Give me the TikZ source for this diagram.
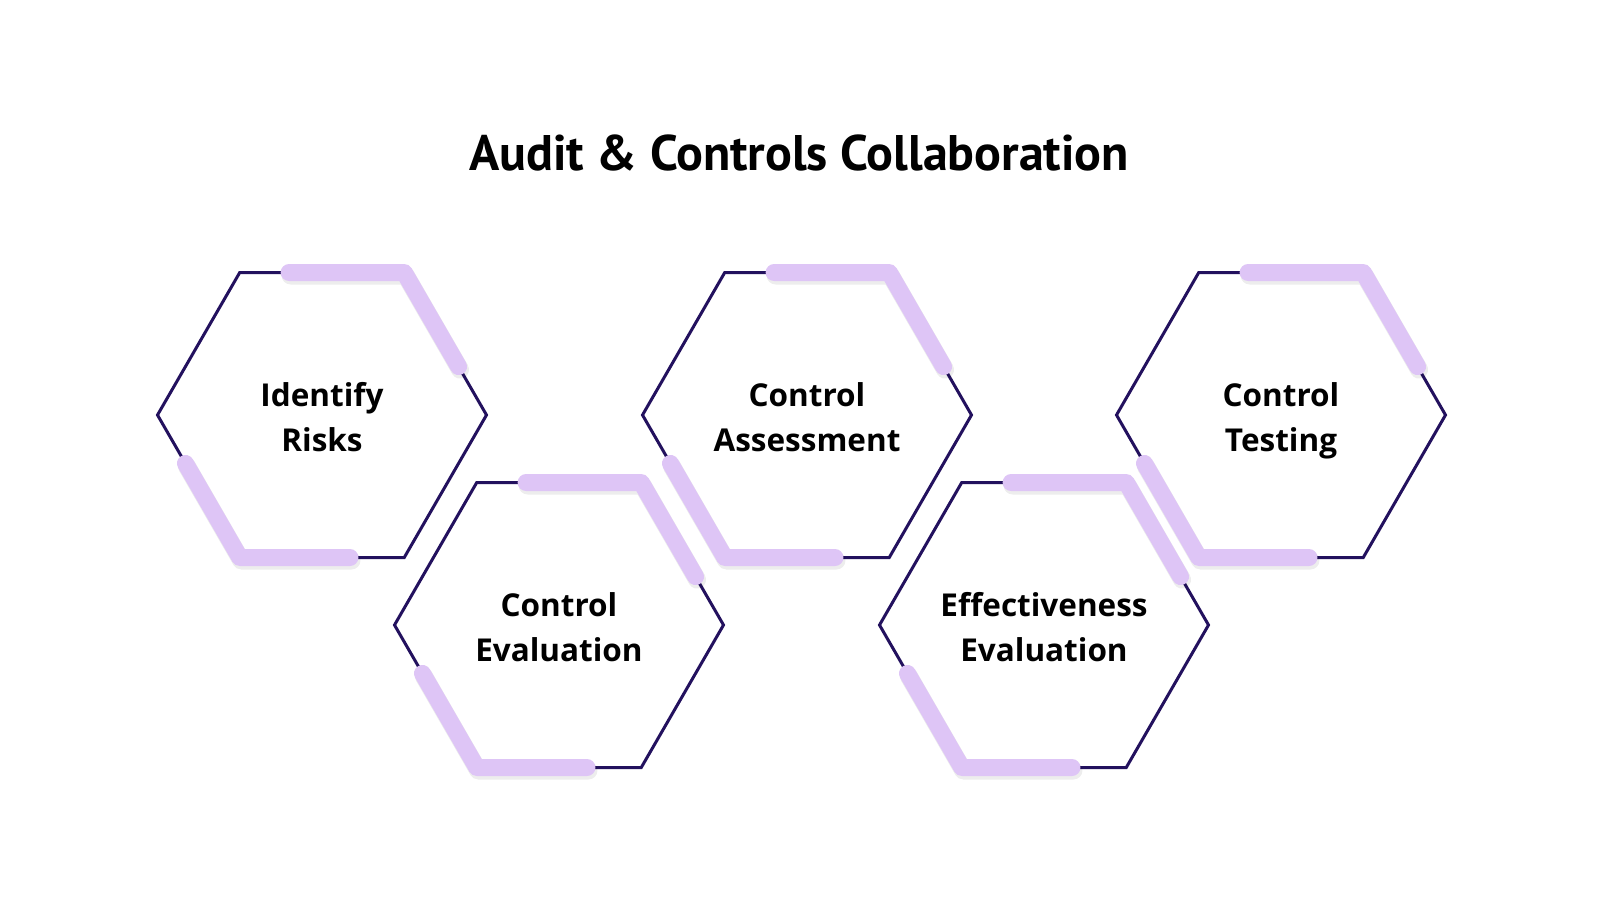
\documentclass[tikz,border=0pt]{standalone}
\usepackage{fontspec}
\setmainfont{Open Sans}
\newfontfamily\titlefont{PT Sans}
\usetikzlibrary{calc}
\definecolor{navy}{HTML}{23115E}
\definecolor{lav}{HTML}{DEC5F6}
\begin{document}
\begin{tikzpicture}[x=1pt,y=-1pt,
  outline/.style={draw=navy,line width=3pt,line join=miter},
  glow/.style={draw=lav,line width=17pt,line cap=round,line join=round},
  glowshadow/.style={draw=black,opacity=0.07,line width=18pt,line cap=round,line join=round},
  hexlabel/.style={align=center,font=\fontsize{31.5}{45}\selectfont\bfseries,text=black,inner sep=0pt},
  titlestyle/.style={font=\titlefont\fontsize{50}{60}\selectfont\bfseries,text=black}]
\useasboundingbox[fill=white] (0,0) rectangle (1600,900);
\node[titlestyle] (title) at (799,153) {Audit \& Controls Collaboration};
\def\R{164.5}\def\H{142.5}
\foreach \n/\x/\y/\t in {h1/322/415/{Identify\\Risks},h2/559/625/{Control\\Evaluation},h3/807/415/{Control\\Assessment},h4/1044/625/{Effectiveness\\Evaluation},h5/1281/415/{Control\\Testing}}{
  \coordinate (\n) at (\x,\y);
  \node[hexlabel] (\n-text) at (\x,\y+6) {\t\vphantom{g}};
  \coordinate (\n-0) at ($(\n)+(\R,0)$);
  \coordinate (\n-1) at ($(\n)+(\R/2,-\H)$);
  \coordinate (\n-2) at ($(\n)+(-\R/2,-\H)$);
  \coordinate (\n-3) at ($(\n)+(-\R,0)$);
  \coordinate (\n-4) at ($(\n)+(-\R/2,\H)$);
  \coordinate (\n-5) at ($(\n)+(\R/2,\H)$);
  \draw[outline] (\n-0) -- (\n-1) -- (\n-2) -- (\n-3) -- (\n-4) -- (\n-5) -- cycle;
}
\foreach \n in {h1,h2,h3,h4,h5}{
  \begin{scope}[transform canvas={shift={(1.5,3)}}]
  \draw[glowshadow] ($(\n-2)!0.3!(\n-1)$) -- (\n-1) -- ($(\n-1)!0.66!(\n-0)$);
  \draw[glowshadow] ($(\n-3)!0.34!(\n-4)$) -- (\n-4) -- ($(\n-4)!0.67!(\n-5)$);
  \end{scope}
  \draw[glow] ($(\n-2)!0.3!(\n-1)$) -- (\n-1) -- ($(\n-1)!0.66!(\n-0)$);
  \draw[glow] ($(\n-3)!0.34!(\n-4)$) -- (\n-4) -- ($(\n-4)!0.67!(\n-5)$);
}
\end{tikzpicture}
\end{document}
